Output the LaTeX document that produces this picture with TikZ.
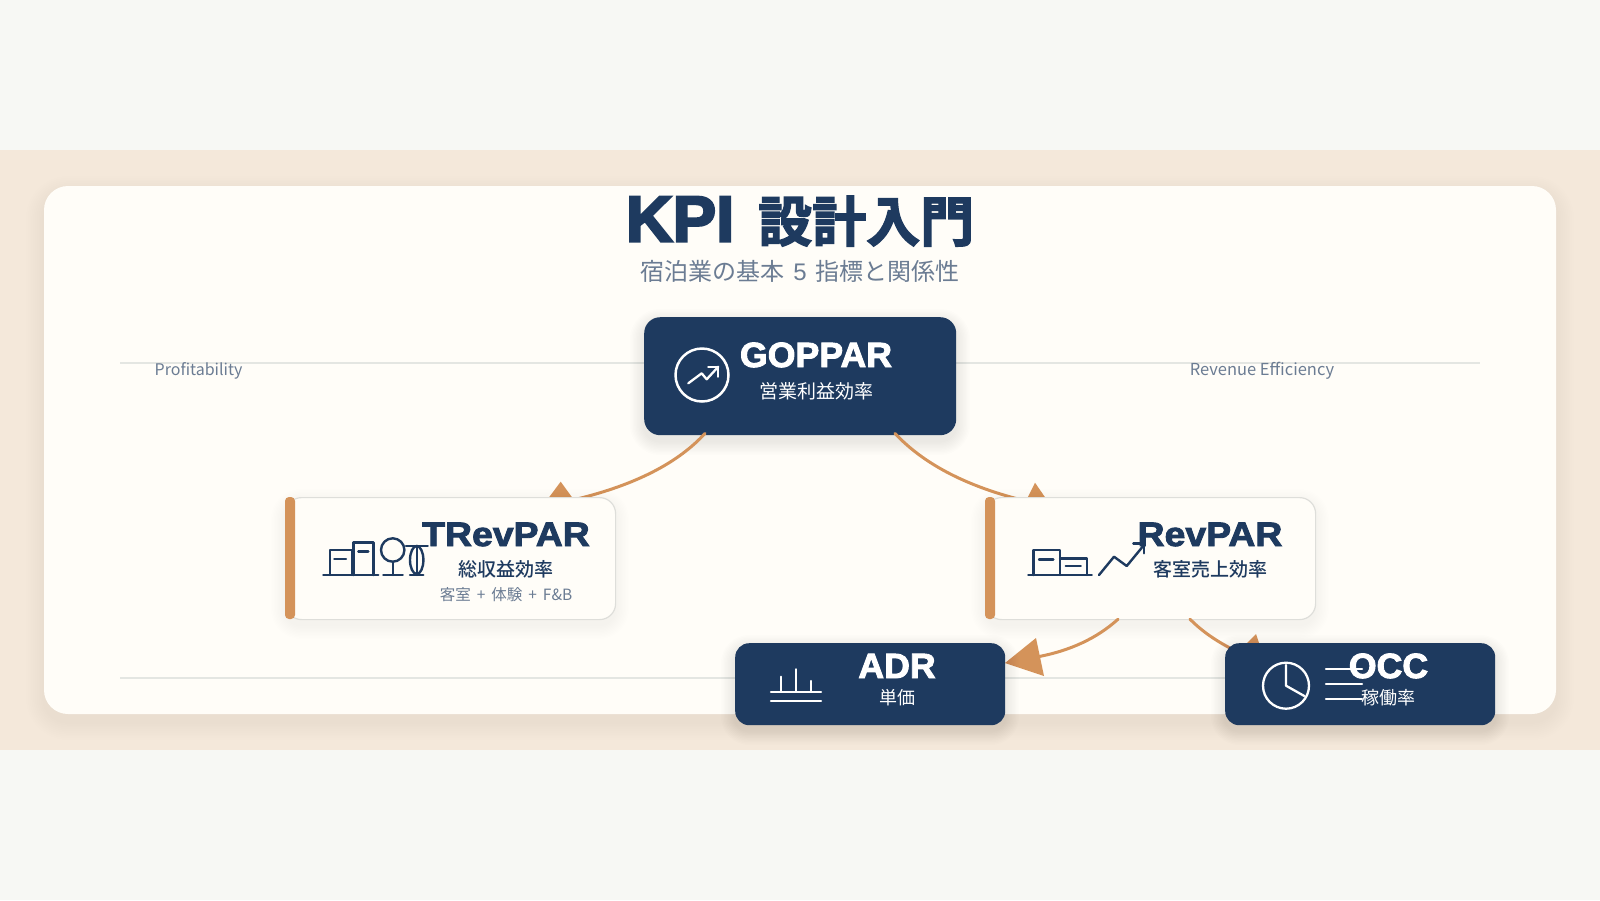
\documentclass[tikz,border=0pt]{standalone}
\usepackage{fontspec}
\setmainfont{Noto Sans CJK JP}
\newfontfamily\hlt[UprightFont={* Bold},FakeBold=3.6]{Liberation Sans}
\newfontfamily\hl[UprightFont={* Bold},FakeBold=2.6,FakeStretch=1.02]{Liberation Sans}
\newfontfamily\hlw[UprightFont={* Bold},FakeBold=2.6,FakeStretch=1.1]{Liberation Sans}
\newfontfamily\hc[UprightFont={* Bold},FakeBold=2.6]{Noto Sans CJK JP}
\newfontfamily\mc[UprightFont={* Medium}]{Noto Sans CJK JP}
\usetikzlibrary{calc}
\definecolor{pagebg}{HTML}{F7F8F4}
\definecolor{band}{HTML}{F4E8DA}
\definecolor{card}{HTML}{FFFDF8}
\definecolor{navy}{HTML}{1E3A5F}
\definecolor{amber}{HTML}{D4935A}
\definecolor{slate}{HTML}{6B7C93}
\definecolor{rule}{HTML}{E4E6E2}
\definecolor{edge}{HTML}{DEDEDA}
\pgfdeclarelayer{la}\pgfdeclarelayer{lb}\pgfdeclarelayer{lc}\pgfdeclarelayer{ld}\pgfdeclarelayer{le}
\pgfsetlayers{main,la,lb,lc,ld,le}
\newcommand{\softshadow}[7]{%
  \foreach \i in {1,...,10}{%
    \fill[black,opacity=#7/10,rounded corners={#5+#6*\i/10}]
      ({#1-#6*\i/10},{#2-#6*\i/10}) rectangle ({#3+#6*\i/10},{#4+#6*\i/10});
  }}
\tikzset{
  navybox/.style={rectangle,fill=navy,rounded corners=14pt,inner sep=0pt,anchor=north west},
  whitebox/.style={rectangle,fill=card,draw=edge,line width=1.2pt,rounded corners=16pt,inner sep=0pt,anchor=north west,minimum width=330pt,minimum height=122pt},
  conn/.style={draw=amber,line width=3pt,line cap=round},
  tipmark/.style={fill=amber},
  txt/.style={inner sep=0pt,anchor=base},
  icw/.style={draw=white,line width=2.3pt,line cap=round,line join=round},
  icn/.style={draw=navy,line width=2.4pt,line cap=round,line join=round},
}
\newcommand{\fs}[1]{\fontsize{#1}{#1}\selectfont}
\begin{document}
\begin{tikzpicture}[x=1pt,y=-1pt]
\useasboundingbox (0,0) rectangle (1600,900);
\fill[pagebg] (0,0) rectangle (1600,900);
\fill[band] (0,150) rectangle (1600,750);
\softshadow{44}{194}{1556}{722}{24}{18}{0.045}
\fill[card,rounded corners=24pt] (44,186) rectangle (1556,714);
\draw[rule,line width=2pt] (120,362.5) -- (1480,362.5);
\draw[rule,line width=2pt] (120,678) -- (1480,678);
\node[txt,text=slate] (lp) at (198.5,375) {\fs{16}Profitability};
\node[txt,text=slate] (lr) at (1262,375) {\fs{16.5}Revenue Efficiency};
\node[txt,text=navy] (title) at (800,241.5) {\fs{65}{\hlt KPI}\hspace{24pt}{\fs{54}\hc 設計入門}};
\node[txt,text=slate] (subtitle) at (800,280) {\fs{24}宿泊業の基本\hspace{8.5pt}{\fontspec{Liberation Sans}5}\hspace{8.5pt}指標と関係性};

\begin{pgfonlayer}{la}
\softshadow{644}{323}{956}{441}{16}{14}{0.07}
\node[navybox,rounded corners=16pt,minimum width=312pt,minimum height=118pt] (gop) at (644,317) {};
\draw[icw,line width=2.5pt] (702,375) circle (26.5);
\draw[icw] (688.3,383.3) -- (701.7,373.3) -- (706.7,379.3) -- (718.3,366.7);
\draw[icw] (708.3,366.7) -- (718.3,366.7) -- (718.3,376.7);
\node[txt,text=white] (gopt) at (816,367) {\fs{35}\hl GOPPAR};
\node[txt,text=white] (gops) at (816,398.5) {\fs{19}営業利益効率};
\end{pgfonlayer}

\begin{pgfonlayer}{lc}
\softshadow{285}{503}{615}{625}{16}{14}{0.05}
\node[whitebox] (trev) at (285,497) {};
\fill[amber,rounded corners=4pt] (285,497) rectangle (295,619);
\draw[icn] (323.3,575) -- (378.3,575) (383.3,575) -- (402.7,575) (410,575) -- (423.3,575);
\draw[icn] (330,575) -- (330,550) -- (351.7,550) -- (351.7,575);
\draw[icn] (334.3,558.7) -- (346,558.7);
\draw[icn] (353.3,575) -- (353.3,542.3) -- (373.3,542.3) -- (373.3,575);
\draw[icn] (358.3,551.3) -- (368.3,551.3);
\draw[icn] (392.7,550) circle (11.7);
\draw[icn] (392.7,561.7) -- (392.7,575);
\draw[icn] (406,545.7) -- (427.7,545.7);
\draw[icn] (416.7,560) ellipse (6.7 and 14);
\draw[icn] (416.7,545.7) -- (416.7,575);
\node[txt,text=navy] (trevt) at (506,546) {\fs{34}\hlw TRevPAR};
\node[txt,text=navy] (trevs) at (506,576.5) {\fs{19}\mc 総収益効率};
\node[txt,text=slate] (trevn) at (506,600.5) {\fs{15.5}客室\hspace{6pt}+\hspace{6pt}体験\hspace{6pt}+\hspace{6pt}F\&B};

\softshadow{985}{503}{1315}{625}{16}{14}{0.05}
\node[whitebox] (rev) at (985,497) {};
\fill[amber,rounded corners=4pt] (985,497) rectangle (995,619);
\draw[icn] (1028.3,575) -- (1091.7,575);
\draw[icn] (1033.3,575) -- (1033.3,550) -- (1060,550) -- (1060,575);
\draw[icn] (1039,559.3) -- (1053.3,559.3);
\draw[icn] (1060,558.3) -- (1086.7,558.3) -- (1086.7,575);
\draw[icn] (1065.7,566) -- (1080.7,566);
\draw[icn] (1099,575) -- (1114,556.7) -- (1126.7,566) -- (1144,545);
\draw[icn] (1133.3,543.3) -- (1144,543.3) -- (1144,553.3);
\node[txt,text=navy] (revt) at (1210,546) {\fs{34}\hlw RevPAR};
\node[txt,text=navy] (revs) at (1210,576.5) {\fs{19}\mc 客室売上効率};
\end{pgfonlayer}

\begin{pgfonlayer}{le}
\softshadow{735}{649}{1005}{731}{14}{14}{0.07}
\node[navybox,minimum width=270pt,minimum height=82pt] (adr) at (735,643) {};
\draw[icw] (771,691.7) -- (821,691.7) (771,700.7) -- (821,700.7);
\draw[icw] (781,676.7) -- (781,691.7) (796,669.3) -- (796,691.7) (810.7,681) -- (810.7,691.7);
\node[txt,text=white] (adrt) at (897,678) {\fs{35}\hl ADR};
\node[txt,text=white] (adrs) at (897,704.5) {\fs{18}単価};

\softshadow{1225}{649}{1495}{731}{14}{14}{0.07}
\node[navybox,minimum width=270pt,minimum height=82pt] (occ) at (1225,643) {};
\draw[icw] (1286,685.7) circle (23);
\draw[icw] (1286,665) -- (1286,685.7) -- (1304.3,696);
\draw[icw] (1326,668.7) -- (1362,668.7) (1326,683.7) -- (1362,683.7) (1326,698.7) -- (1362,698.7);
\node[txt,text=white] (occt) at (1388.5,678) {\fs{35}\hl OCC};
\node[txt,text=white] (occs) at (1388.5,704.5) {\fs{18}稼働率};
\end{pgfonlayer}

\begin{pgfonlayer}{lb}
\path[conn] ($(gop.south west)+(61,-2)$) .. controls (678.3,462.7) and (635.7,484.7) .. ($(trev.north west)+(292,2)$);
\path[conn] ($(gop.south west)+(251,-2)$) .. controls (922.3,462.7) and (963.3,484.7) .. ($(rev.north west)+(33,2)$);
\fill[tipmark] (560.7,481.7) -- (547,500) -- (574,500) -- cycle;
\fill[tipmark] (1035,482.7) -- (1025,503) -- (1049,503) -- cycle;
\end{pgfonlayer}

\begin{pgfonlayer}{ld}
\path[conn] ($(rev.south west)+(133,-1)$) .. controls (1097.3,638) and (1070,651) .. ($(adr.north east)+(31,14)$);
\path[conn] ($(rev.south west)+(205,-1)$) .. controls (1200,629.3) and (1213.3,639.3) .. ($(occ.north west)+(5,5)$);
\fill[tipmark] (1005,663) -- (1036,638) -- (1044,676) -- cycle;
\fill[tipmark] (1256,634) -- (1238,652) -- (1262,652) -- cycle;
\end{pgfonlayer}
\end{tikzpicture}
\end{document}
